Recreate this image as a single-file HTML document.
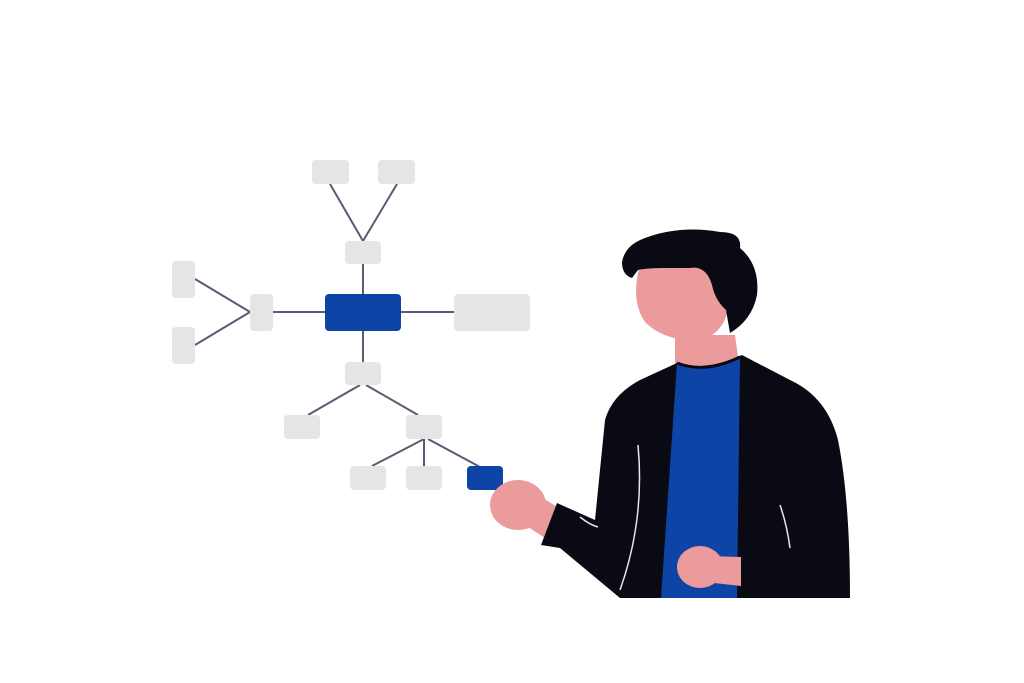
<!DOCTYPE html>
<html><head><style>html,body{margin:0;padding:0;background:#fff}svg{display:block}</style></head>
<body>
<svg width="1024" height="683" viewBox="0 0 1024 683" xmlns="http://www.w3.org/2000/svg">
<g stroke="#5a5a72" stroke-width="2" fill="none">
<line x1="330" y1="184" x2="363" y2="241"/><line x1="397" y1="184" x2="363" y2="241"/>
<line x1="363" y1="264" x2="363" y2="294"/>
<line x1="273" y1="312" x2="325" y2="312"/><line x1="401" y1="312" x2="454" y2="312"/>
<line x1="195" y1="279" x2="250" y2="312"/><line x1="195" y1="345" x2="250" y2="312"/>
<line x1="363" y1="331" x2="363" y2="362"/>
<line x1="360" y1="385" x2="308" y2="415"/><line x1="366" y1="385" x2="418" y2="415"/>
<line x1="424" y1="439" x2="372" y2="466"/><line x1="424" y1="439" x2="424" y2="466"/><line x1="428" y1="439" x2="480" y2="467"/>
</g>
<g fill="#e5e5e5">
<rect x="312" y="160" width="37" height="24" rx="4"/><rect x="378" y="160" width="37" height="24" rx="4"/>
<rect x="345" y="241" width="36" height="23" rx="4"/>
<rect x="454" y="294" width="76" height="37" rx="4"/>
<rect x="250" y="294" width="23" height="37" rx="4"/>
<rect x="172" y="261" width="23" height="37" rx="4"/><rect x="172" y="327" width="23" height="37" rx="4"/>
<rect x="345" y="362" width="36" height="23" rx="4"/>
<rect x="284" y="415" width="36" height="24" rx="4"/><rect x="406" y="415" width="36" height="24" rx="4"/>
<rect x="350" y="466" width="36" height="24" rx="4"/><rect x="406" y="466" width="36" height="24" rx="4"/>
</g>
<rect x="325" y="294" width="76" height="37" rx="4" fill="#0e44a6"/>
<rect x="467" y="466" width="36" height="24" rx="4" fill="#0e44a6"/>
<!-- person -->
<path d="M675 335 L735 335 L740 372 L675 372 Z" fill="#ec9b9c"/>
<ellipse cx="518" cy="505" rx="28" ry="25" fill="#ec9b9c"/>
<path d="M530 490 L562 510 L548 540 L525 525 Z" fill="#ec9b9c"/>
<path d="M677 363 Q705 372 742 355 L790 380 Q827 397 838 440 Q850 500 850 598 L620 598 L560 548 L541 545 L557 503 L595 520 L605 420 Q612 395 640 380 Z" fill="#0a0a14"/>
<path d="M677 363 Q705 374 740 357 L737 598 L661 598 Z" fill="#0e44a6"/>
<path d="M677 363 Q705 374 740 357" stroke="#0a0a14" stroke-width="3" fill="none"/>
<path d="M638 445 Q645 520 620 590" stroke="#e8e8e8" stroke-width="1.5" fill="none"/>
<path d="M580 517 Q590 525 598 527" stroke="#e8e8e8" stroke-width="1.5" fill="none"/>
<path d="M780 505 Q787 525 790 548" stroke="#e8e8e8" stroke-width="1.5" fill="none"/>
<ellipse cx="700" cy="567" rx="23" ry="21" fill="#ec9b9c"/>
<path d="M705 556 L741 557 L741 586 L705 582 Z" fill="#ec9b9c"/>
<path d="M640 265 Q630 300 645 322 Q665 342 700 340 Q722 335 728 310 L727 265 Z" fill="#ec9b9c"/>
<path d="M622 262 Q625 245 645 238 Q680 225 720 232 Q742 232 740 248 Q760 265 757 295 Q752 320 730 333 L726 310 Q715 300 712 285 Q706 265 690 268 L665 268 Q648 268 638 270 L632 278 Q622 275 622 262 Z" fill="#0a0a14"/>
</svg>
</body></html>
